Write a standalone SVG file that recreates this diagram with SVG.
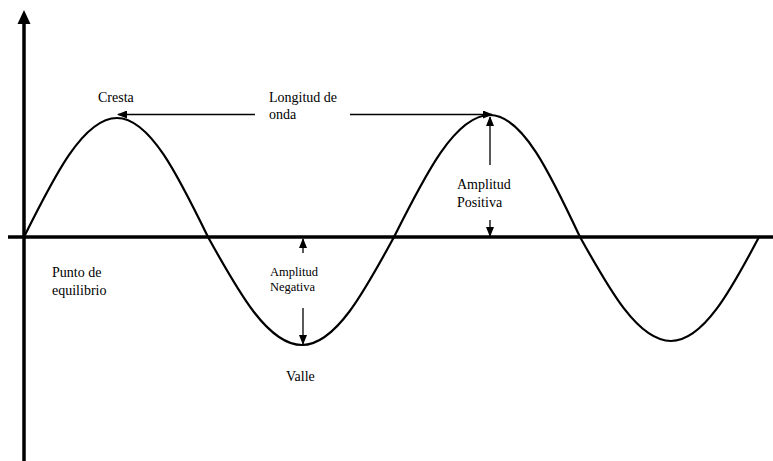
<svg xmlns="http://www.w3.org/2000/svg" width="773" height="461" viewBox="0 0 773 461">
<style>
.axis{stroke:#000;stroke-width:3.5;fill:none}
.wave{stroke:#000;stroke-width:2.2;fill:none}
.arr{stroke:#000;stroke-width:1.3;fill:none;marker-end:url(#ah)}
.lbl{font-family:"Liberation Serif","Times New Roman",serif;font-size:14px;fill:#000}
.sm{font-size:12.5px}
</style>
<defs>
<marker id="ah" markerWidth="10" markerHeight="8" refX="9" refY="4" orient="auto" markerUnits="userSpaceOnUse">
<path d="M0,0 L10,4 L0,8 Z" fill="#000"/>
</marker>
</defs>
<rect width="773" height="461" fill="#fff"/>
<g id="axes">
<line class="axis" x1="24" y1="22" x2="24" y2="461"/>
<path d="M24,10 L30.5,24 L17.5,24 Z" fill="#000"/>
<line class="axis" x1="8" y1="237" x2="773" y2="237"/>
</g>
<g id="wave">
<path class="wave" d="M24,237 C54.3,176.1 83.3,118 117,118 C149.9,118 178.3,176.1 208,237 C238.6,292.3 268,345 302,345 C335.3,345 364,292.3 394,237 C425.3,174.5 455.2,115 490,115 C522.6,115 550.7,174.5 580,237 C609.7,290.2 638.1,341 671,341 C703.2,341 731,290.2 759,237"/>
</g>
<g id="connectors">
<line class="arr" x1="255" y1="114.5" x2="118" y2="114.5"/>
<line class="arr" x1="350" y1="114.5" x2="492" y2="114.5"/>
<line class="arr" x1="490" y1="165" x2="490" y2="117"/>
<line class="arr" x1="490" y1="220" x2="490" y2="236"/>
<line class="arr" x1="303" y1="253" x2="303" y2="239"/>
<line class="arr" x1="303" y1="308" x2="303" y2="344"/>
</g>
<g id="cresta"><text class="lbl" x="98" y="102">Cresta</text></g>
<g id="longitud"><text class="lbl" x="269" y="102">Longitud de</text><text class="lbl" x="269" y="119">onda</text></g>
<g id="amp-pos"><text class="lbl" x="457" y="189">Amplitud</text><text class="lbl" x="457" y="207">Positiva</text></g>
<g id="amp-neg"><text class="lbl sm" x="270" y="276">Amplitud</text><text class="lbl sm" x="270" y="291">Negativa</text></g>
<g id="punto"><text class="lbl" x="52" y="277">Punto de</text><text class="lbl" x="52" y="295">equilibrio</text></g>
<g id="valle"><text class="lbl" x="286" y="381">Valle</text></g>
</svg>
